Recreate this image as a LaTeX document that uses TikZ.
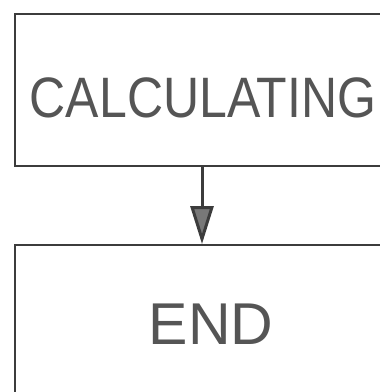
\documentclass[tikz,border=0pt]{standalone}
\usepackage{fontspec}
\setmainfont{Liberation Sans}
\definecolor{boxGray}{RGB}{60,60,60}
\definecolor{textGray}{RGB}{85,85,85}
\definecolor{headGray}{RGB}{120,120,120}
\usetikzlibrary{arrows.meta,positioning}

\begin{document}
\begin{tikzpicture}[x=1pt,y=-1pt,
    stepbox/.style={draw=boxGray,line width=2pt,rectangle,inner sep=0pt},
    steptext/.style={text=textGray,inner sep=0pt,font=\fontsize{58}{60}\selectfont}]
          \useasboundingbox (0,0) rectangle (380,392);
          \clip (0,0) rectangle (380,392);
          \node[stepbox,minimum width=374pt,minimum height=152pt] (calc) at (202,90) {};
          \node[stepbox,minimum width=374pt,minimum height=160pt] (end) at (202,325) {};
          \node[steptext,font=\fontsize{57}{60}\selectfont,xscale=0.877] (calctext) at (203,97.5) {CALCULATING};
          \node[steptext,font=\fontsize{59}{60}\selectfont] (endtext) at (211,324) {END};
          \draw[boxGray,line width=3pt,-{Triangle[length=38pt,width=23pt,fill=headGray]}] (calc.south) -- (end.north);
        \end{tikzpicture}
\end{document}
